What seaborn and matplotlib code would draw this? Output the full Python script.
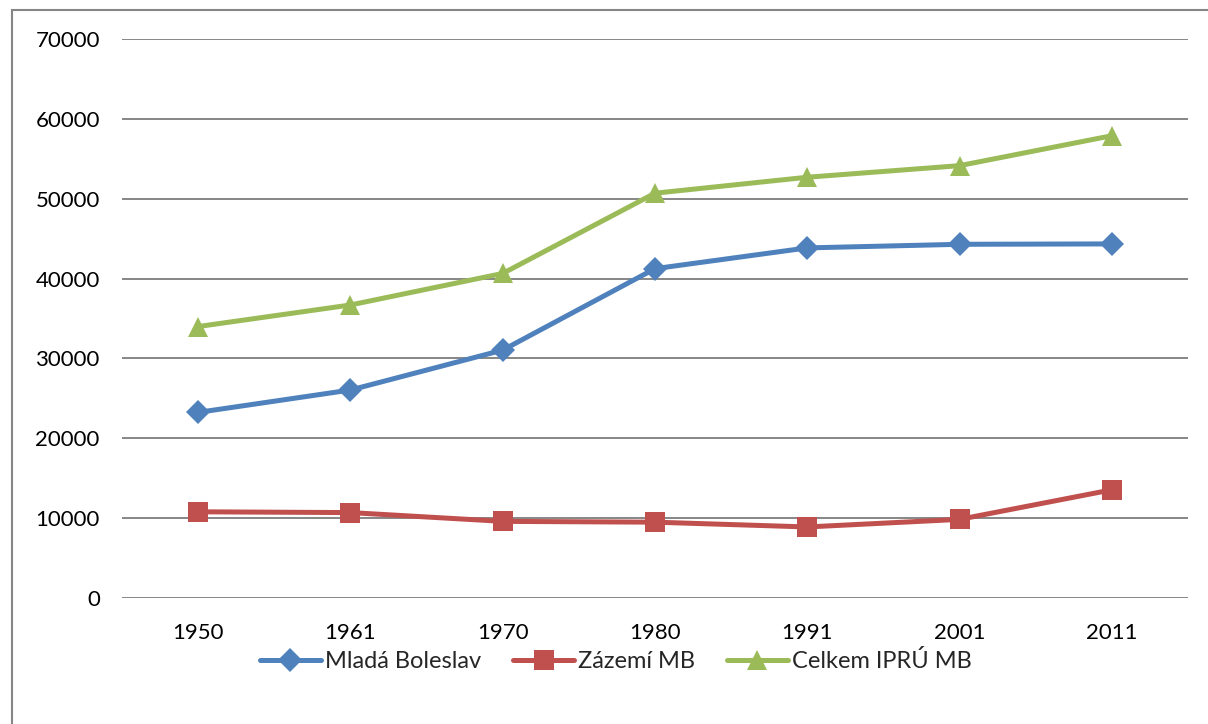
import pandas as pd
import matplotlib
matplotlib.use("Agg")
import matplotlib.pyplot as plt
import seaborn as sns
from matplotlib.patches import Rectangle

roky = ["1950", "1961", "1970", "1980", "1991", "2001", "2011"]
mlada_boleslav = [23250, 26050, 31050, 41250, 43850, 44300, 44350]
zazemi_mb = [10800, 10700, 9600, 9500, 8900, 9850, 13550]
celkem_ipru_mb = [34000, 36700, 40650, 50700, 52700, 54150, 57900]

serie = ["Mladá Boleslav", "Zázemí MB", "Celkem IPRÚ MB"]
barvy = ["#4F81BD", "#C0504D", "#9BBB59"]
znacky = ["D", "s", "^"]
velikosti = [12, 14, 14]

df = pd.DataFrame({
    "rok": roky,
    serie[0]: mlada_boleslav,
    serie[1]: zazemi_mb,
    serie[2]: celkem_ipru_mb,
})
long = df.melt(id_vars="rok", var_name="serie", value_name="pocet")

sns.set_style("white")
plt.rcParams["font.family"] = ["Lato", "DejaVu Sans"]

fig = plt.figure(figsize=(12.08, 7.24), dpi=100)
ax = fig.add_axes([0.101, 0.174, 0.8824, 0.772])

sns.lineplot(data=long, x="rok", y="pocet", hue="serie", style="serie",
             hue_order=serie, style_order=serie, palette=barvy,
             markers=dict(zip(serie, znacky)), dashes=False, sort=False,
             linewidth=3.6, markersize=12, markeredgewidth=0, ax=ax)

for line, ms in zip(ax.lines[:3], velikosti):
    line.set_markersize(ms)

ax.set_xlim(-0.5, 6.5)
ax.set_ylim(0, 70000)
ax.set_yticks(range(0, 70001, 10000))
ax.yaxis.grid(True, color="#868686", linewidth=1.4)
ax.set_axisbelow(True)
for s in ax.spines.values():
    s.set_visible(False)
ax.set_xlabel("")
ax.set_ylabel("")
ax.tick_params(axis="both", labelsize=16, colors="black", length=0)
ax.tick_params(axis="y", pad=16)
ax.tick_params(axis="x", pad=18)

handles, labels = ax.get_legend_handles_labels()
for h, ms in zip(handles, velikosti):
    h.set_markersize(ms)
    h.set_linewidth(3.6)
ax.legend(handles, labels, loc="center", bbox_to_anchor=(0.463, -0.113),
          ncol=3, frameon=False, fontsize=17, handlelength=2.6,
          handletextpad=0.15, columnspacing=1.35)

# chart area border
fig.patches.append(Rectangle((12 / 1208, -0.05), 1.2, 1 - 10 / 724 + 0.05,
                             transform=fig.transFigure, fill=False,
                             edgecolor="#868686", linewidth=1.5))

fig.savefig("out.png", dpi=100)
